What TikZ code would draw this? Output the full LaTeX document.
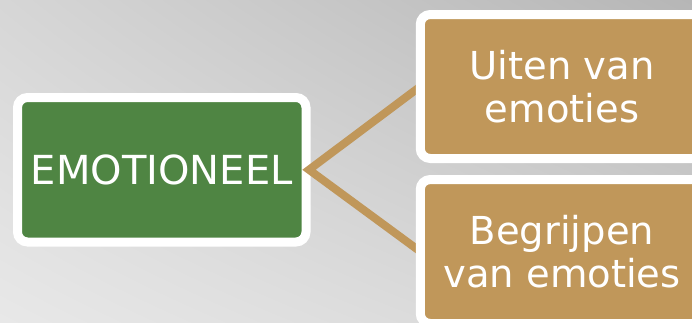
\documentclass[tikz,border=0pt]{standalone}
\usepackage{fontspec}
\setmainfont{DejaVu Sans}
\usetikzlibrary{shadings}
\pgfdeclarelayer{bg}
\pgfdeclarelayer{front}
\pgfsetlayers{bg,main,front}
\definecolor{boxgreen}{RGB}{79,133,67}
\definecolor{boxbrown}{RGB}{192,151,90}
\definecolor{bgTL}{RGB}{214,214,214}
\definecolor{bgTR}{RGB}{182,182,182}
\definecolor{bgBL}{RGB}{232,232,232}
\definecolor{bgBR}{RGB}{212,212,212}
\tikzset{
  mainbox/.style={draw=white, line width=9pt, rounded corners=10pt, fill=boxgreen,
    text=white, inner sep=0pt, outer sep=0pt, align=center,
    minimum width=288.5pt, minimum height=144.5pt,
    font=\fontsize{40}{46}\selectfont},
  subbox/.style={draw=white, line width=9pt, rounded corners=10pt, fill=boxbrown,
    text=white, inner sep=0pt, outer sep=0pt, align=center,
    minimum width=283.5pt, minimum height=144pt,
    font=\fontsize{38.5}{43}\selectfont},
  conn/.style={draw=boxbrown, line width=8pt, line join=miter}
}
\begin{document}
\begin{tikzpicture}[x=1pt,y=-1pt]
\useasboundingbox (0,0) rectangle (692,322);
\begin{pgfonlayer}{bg}
\shade[upper left=bgTL, upper right=bgTR, lower left=bgBL, lower right=bgBR] (0,0) rectangle (692,322);
\end{pgfonlayer}
\clip (0,0) rectangle (692,322);
\node[mainbox] (em) at (161.75,169.75) {EMOTIONEEL};
\begin{pgfonlayer}{front}
\node[subbox] (uit) at (562,86.5) {Uiten van\\emoties};
\node[subbox] (beg) at (562,251.5) {Begrijpen\\van emoties};
\end{pgfonlayer}
\draw[conn] (uit.west) -- ([xshift=3pt]em.east) -- (beg.west);
\end{tikzpicture}
\end{document}
